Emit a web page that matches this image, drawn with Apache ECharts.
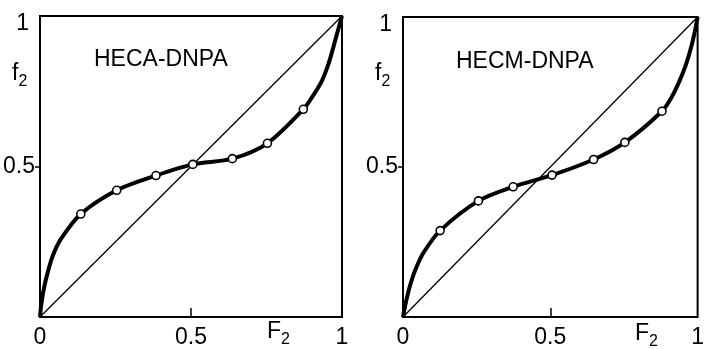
<!DOCTYPE html>
<html>
<head>
<meta charset="utf-8">
<script src="https://cdn.jsdelivr.net/npm/echarts@6/dist/echarts.min.js"></script>
<style>
  html, body { margin: 0; padding: 0; background: #fff; }
  #chart { width: 707px; height: 349px; }
</style>
</head>
<body>
<div id="chart"></div>
<script>
// panel titles
const panelNames = ['HECA-DNPA', 'HECM-DNPA'];

// measured points (open circles), F2 vs f2
const hecaPoints = [
  [0.135, 0.342], [0.254, 0.421], [0.384, 0.470], [0.506, 0.507],
  [0.637, 0.526], [0.753, 0.577], [0.872, 0.690]
];
const hecmPoints = [
  [0.126, 0.288], [0.256, 0.387], [0.374, 0.434], [0.506, 0.473],
  [0.647, 0.525], [0.753, 0.582], [0.879, 0.686]
];

// drawn curve (ends included)
const hecaCurve = [
  [0, 0], [0.004, 0.039], [0.013, 0.095], [0.026, 0.15], [0.043, 0.205],
  [0.07, 0.26], [0.135, 0.342], [0.254, 0.421], [0.384, 0.470],
  [0.506, 0.507], [0.637, 0.526], [0.753, 0.577], [0.872, 0.690],
  [0.90, 0.729], [0.933, 0.784], [0.955, 0.84], [0.971, 0.895],
  [0.986, 0.95], [1, 1]
];
const hecmCurve = [
  [0, 0], [0.01, 0.05], [0.024, 0.105], [0.043, 0.16], [0.07, 0.215],
  [0.126, 0.288], [0.256, 0.387], [0.374, 0.434], [0.506, 0.473],
  [0.647, 0.525], [0.753, 0.582], [0.879, 0.686], [0.912, 0.733],
  [0.939, 0.788], [0.961, 0.843], [0.978, 0.899], [0.991, 0.954], [1, 1]
];

// azeotrope reference line f2 = F2
const diagonal = [[0, 0], [1, 1]];

// tick labels
const xTickLabels = [0, 0.5, 1];
const yTickLabels = [0.5, 1];

const FONT = 'Liberation Sans';

const grids = [
  { left: 40, top: 16, width: 302, height: 301 },
  { left: 403, top: 17, width: 302, height: 301 }
];

function xAxisFor(i) {
  return {
    type: 'value', gridIndex: i, min: 0, max: 1,
    axisLine: { show: false },
    splitLine: { show: false },
    axisTick: { show: true, inside: true, length: 9, customValues: [0.5],
      lineStyle: { color: '#000', width: 1.5 } },
    axisLabel: {
      customValues: xTickLabels, margin: 9, color: '#000',
      fontFamily: FONT, fontSize: 23,
      formatter: (v) => String(v)
    }
  };
}

function yAxisFor(i) {
  return {
    type: 'value', gridIndex: i, min: 0, max: 1,
    axisLine: { show: false },
    splitLine: { show: false },
    axisTick: { show: true, inside: false, length: 5, customValues: [0.5],
      lineStyle: { color: '#000', width: 1.5 } },
    axisLabel: {
      customValues: yTickLabels, margin: 5, color: '#000',
      fontFamily: FONT, fontSize: 23,
      formatter: (v) => (v === 1 ? '{one|1}' : String(v)),
      rich: { one: { fontFamily: FONT, fontSize: 23, color: '#000', padding: [16, 6, 0, 0] } }
    }
  };
}

function panelSeries(i, curve, points) {
  return [
    {
      type: 'line', xAxisIndex: i, yAxisIndex: i, data: diagonal,
      showSymbol: false, silent: true,
      lineStyle: { color: '#000', width: 1.3 }
    },
    {
      type: 'line', xAxisIndex: i, yAxisIndex: i, data: curve,
      smooth: 0.3, showSymbol: false, silent: true,
      lineStyle: { color: '#000', width: 4 }
    },
    {
      type: 'scatter', xAxisIndex: i, yAxisIndex: i, data: points,
      symbol: 'circle', symbolSize: 8, silent: true, z: 5,
      itemStyle: { color: '#fff', opacity: 1, borderColor: '#000', borderWidth: 1.6 }
    }
  ];
}

const subRich = {
  m: { fontFamily: FONT, fontSize: 23, color: '#000', lineHeight: 24 },
  s: { fontFamily: FONT, fontSize: 16, color: '#000', lineHeight: 16, padding: [15, 0, 0, 0] }
};

function label(text, left, top) {
  return {
    text: text, left: left, top: top, padding: 0,
    textStyle: { fontFamily: FONT, fontSize: 23, fontWeight: 'normal', color: '#000', rich: subRich }
  };
}

const option = {
  backgroundColor: '#fff',
  animation: false,
  title: [
    label(panelNames[0], 94, 48),
    label(panelNames[1], 456, 50),
    label('{m|f}{s|2}', 12, 62),
    label('{m|f}{s|2}', 375, 62),
    label('{m|F}{s|2}', 267, 320),
    label('{m|F}{s|2}', 635, 322)
  ],
  grid: grids.map((g) => ({
    ...g, show: true, borderColor: '#000', borderWidth: 2, backgroundColor: 'transparent'
  })),
  xAxis: [xAxisFor(0), xAxisFor(1)],
  yAxis: [yAxisFor(0), yAxisFor(1)],
  series: [
    ...panelSeries(0, hecaCurve, hecaPoints),
    ...panelSeries(1, hecmCurve, hecmPoints)
  ]
};

const chart = echarts.init(document.getElementById('chart'));
chart.setOption(option);
</script>
</body>
</html>
